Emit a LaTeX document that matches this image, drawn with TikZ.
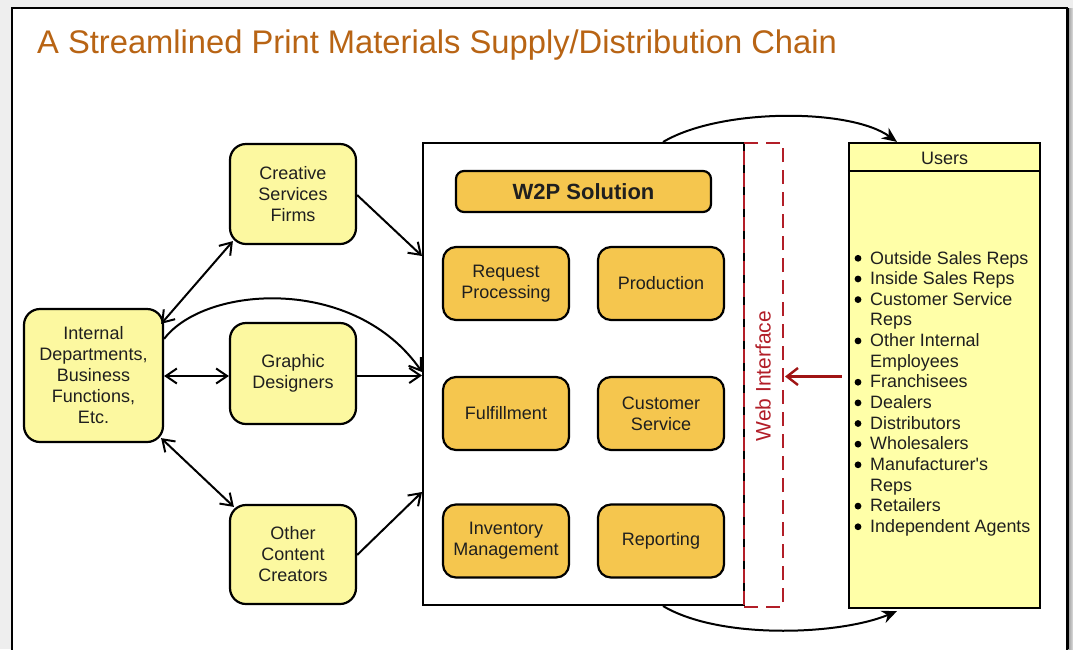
\documentclass[tikz,border=0pt]{standalone}
\usepackage{fontspec}
\setmainfont{Liberation Sans}[Ligatures=TeXOff]
\usetikzlibrary{arrows.meta,calc}
\definecolor{lyel}{RGB}{252,248,160}
\definecolor{uyel}{RGB}{255,255,168}
\definecolor{org}{RGB}{245,198,78}
\definecolor{ttl}{RGB}{184,100,20}
\definecolor{wred}{RGB}{178,30,40}
\definecolor{arred}{RGB}{160,20,20}
\definecolor{pagebg}{RGB}{238,238,238}
\begin{document}
\begin{tikzpicture}[x=1pt,y=-1pt,
  ybox/.style={draw, line width=2.2pt, rounded corners=16pt, fill=lyel, align=center,
    font=\fontsize{18}{21}\selectfont, inner sep=0pt, text=black!88},
  obox/.style={draw, line width=2.2pt, rounded corners=13pt, fill=org, align=center,
    font=\fontsize{18}{21}\selectfont, inner sep=0pt, minimum width=126pt, minimum height=73pt, text=black!88},
  conn/.style={line width=2pt, -{Straight Barb[length=11pt,width=15pt]}},
  dconn/.style={line width=2pt, {Straight Barb[length=11pt,width=15pt]}-{Straight Barb[length=11pt,width=15pt]}},
  arc/.style={line width=2pt, -{Stealth[length=15pt,width=13pt]}},
  ulist/.style={anchor=base west, inner sep=0pt, font=\fontsize{17.9}{20.6}\selectfont, text=black!88}
]
\useasboundingbox (0,0) rectangle (1073,649);
% page background and frame
\fill[pagebg] (0,0) rectangle (1073,649);
\shade[left color=gray!80, right color=gray!25] (1068,8) rectangle (1073,649);
\draw[line width=1.6pt, fill=white] (12,8) -- (1067,8) -- (1067,655) -- (12,655) -- cycle;
\draw[line width=2.4pt] (1067.5,8) -- (1067.5,649);

% title
\node[anchor=base west, inner sep=0pt, text=ttl, font=\fontsize{32.7}{36}\selectfont] (title) at (37,53) {A Streamlined Print Materials Supply/Distribution Chain};

% left boxes
\node[ybox, minimum width=139pt, minimum height=133pt] (int) at (93.5,375.5) {Internal\\Departments,\\Business\\Functions,\\Etc.};
\node[ybox, minimum width=126pt, minimum height=100pt] (cre) at (293,194) {Creative\\Services\\Firms};
\node[ybox, minimum width=126pt, minimum height=101pt] (gra) at (293,373.5) {Graphic\\Designers};
\node[ybox, minimum width=126pt, minimum height=99pt] (oth) at (293,554.5) {Other\\Content\\Creators};

% main box
\node[draw, line width=2pt, fill=white, minimum width=321pt, minimum height=462pt, inner sep=0pt] (main) at (583.5,374) {};
\node[draw, line width=2.2pt, rounded corners=8pt, fill=org, minimum width=255pt, minimum height=41pt, inner sep=0pt,
  font=\bfseries\fontsize{22}{26}\selectfont, text=black!88] (w2p) at (583.5,191.5) {W2P Solution};
\node[obox] (req) at (506,283.5) {Request\\Processing};
\node[obox] (pro) at (661,283.5) {Production};
\node[obox] (ful) at (506,413.5) {Fulfillment};
\node[obox] (cus) at (661,413.5) {Customer\\Service};
\node[obox] (inv) at (506,541) {Inventory\\Management};
\node[obox] (rep) at (661,541) {Reporting};

% web interface
\node[draw=wred, line width=2pt, dash pattern=on 14pt off 8pt, minimum width=39pt, minimum height=464pt, inner sep=0pt] (web) at (763.5,375) {};
\node[rotate=90, text=wred, font=\fontsize{21}{24}\selectfont, inner sep=0pt] (wlab) at (763,376) {Web Interface};

% users
\node[draw, line width=2.2pt, fill=uyel, minimum width=191pt, minimum height=465pt, inner sep=0pt] (usr) at (944.5,375.5) {};
\draw[line width=2pt] ($(usr.north west)+(0,29)$) -- ($(usr.north east)+(0,29)$);
\node[font=\fontsize{18}{21}\selectfont, inner sep=0pt, text=black!88] (uhead) at (944.5,158) {Users};

\foreach \k/\b/\t in {0/1/Outside Sales Reps, 1/1/Inside Sales Reps, 2/1/Customer Service, 3/0/Reps,
  4/1/Other Internal, 5/0/Employees, 6/1/Franchisees, 7/1/Dealers, 8/1/Distributors, 9/1/Wholesalers,
  10/1/Manufacturer's, 11/0/Reps, 12/1/Retailers, 13/1/Independent Agents}{
  \pgfmathsetmacro{\yy}{264+20.65*\k}
  \node[ulist] (u\k) at (870,\yy) {\t};
  \ifnum\b=1 \fill (858,\yy-5.7) circle (3.4pt); \fi
}

% connectors
\draw[dconn] ([shift={(-3,16)}]int.north east) -- ([shift={(4,-4)}]cre.south west);
\draw[dconn] ([shift={(0,0.5)}]int.east) -- ([shift={(0,0.5)}]int.east -| gra.west);
\draw[dconn] ([shift={(-3,-5)}]int.south east) -- ([shift={(5,3)}]oth.north west);
\draw[conn] ([shift={(0,1)}]cre.east) -- ([shift={(0,114)}]main.north west);
\draw[conn] ([shift={(0,2)}]gra.east) -- ([shift={(0,2)}]gra.east -| main.west);
\draw[conn] ([shift={(0,0.5)}]oth.east) -- ([shift={(0,-114)}]main.south west);
\draw[conn] ([shift={(0,31)}]int.north east) .. controls (205,285) and (355,275) .. ([shift={(0,-2)}]main.west);

\draw[arc] ([shift={(79.5,0)}]main.north) .. controls (720,108) and (850,108) .. ([shift={(-47.5,0)}]usr.north);
\draw[arc] ([shift={(79.5,0)}]main.south) .. controls (720,640) and (840,635) .. ([shift={(-47.5,2)}]usr.south);

\draw[line width=2.4pt, arred, -{Straight Barb[length=11pt,width=17pt]}] ([shift={(-6,1)}]usr.west) -- ([shift={(1,1)}]usr.west -| web.east);
\end{tikzpicture}
\end{document}
